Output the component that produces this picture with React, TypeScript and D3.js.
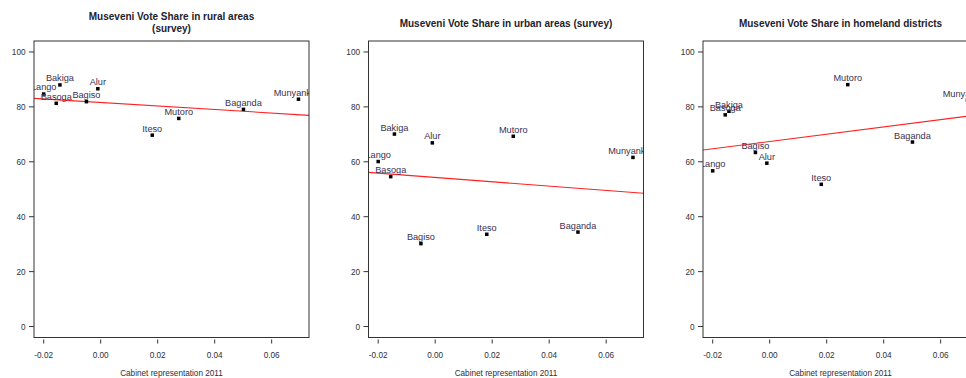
import * as d3 from 'd3';

// ethnic groups and their cabinet representation in 2011
const groups = ['Lango', 'Bakiga', 'Basoga', 'Bagiso', 'Alur', 'Iteso', 'Mutoro', 'Baganda', 'Munyankole'];
const cabinet = [-0.02, -0.0143, -0.0156, -0.005, -0.001, 0.0181, 0.0274, 0.0501, 0.0694];

// Museveni vote share (%)
const rural = [84.7, 88.0, 81.3, 81.9, 86.6, 69.7, 75.8, 79.1, 82.8];
const urban = [60.1, 70.1, 54.6, 30.2, 66.9, 33.6, 69.3, 34.4, 61.6];
const homeland = [56.7, 78.4, 77.1, 63.4, 59.5, 51.8, 88.1, 67.2, 82.4];

// fitted lines: [intercept, slope]
const ruralFit = [81.6, -64];
const urbanFit = [54.3, -79];
const homelandFit = [67.4, 133];

const panels = [
  { key: 'rural', title: ['Museveni Vote Share in rural areas', '(survey)'], values: rural, fit: ruralFit },
  { key: 'urban', title: ['Museveni Vote Share in urban areas (survey)'], values: urban, fit: urbanFit },
  { key: 'homeland', title: ['Museveni Vote Share in homeland districts'], values: homeland, fit: homelandFit },
];

const W = 966;
const H = 378;
const PLOT_LEFT = [34, 368.5, 703];
const PLOT_W = 275;
const TOP = 41;
const BOTTOM = 337.5;
const FONT = '"Liberation Sans", Arial, sans-serif';
const INK = '#2e2e3a';

const fmtX = (v: number) => d3.format('.2f')(v).replace('\u2212', '-');

function Panel({ p, left }: { p: typeof panels[number]; left: number }) {
  const right = left + PLOT_W;
  const x = d3.scaleLinear().domain([-0.0234, 0.0731]).range([left, right]);
  const y = d3.scaleLinear().domain([-4, 104]).range([BOTTOM, TOP]);
  const cx = (left + right) / 2;
  const clipId = `clip-${p.key}`;
  const [a, b] = p.fit;
  const [x0, x1] = x.domain();

  return (
    <g>
      <defs>
        <clipPath id={clipId}>
          <rect x={left} y={TOP} width={PLOT_W} height={BOTTOM - TOP} />
        </clipPath>
      </defs>

      {p.title.map((t, i) => (
        <text key={i} x={cx} y={p.title.length > 1 ? 19.5 + i * 12.5 : 27}
          textAnchor="middle" fontFamily={FONT} fontSize={10} fontWeight="bold" fill="#22222e">
          {t}
        </text>
      ))}

      <g clipPath={`url(#${clipId})`}>
        <line x1={x(x0)} x2={x(x1)} y1={y(a + b * x0)} y2={y(a + b * x1)} stroke="#ff2020" strokeWidth={1.1} />
        {groups.map((g, i) => (
          <g key={g}>
            <rect x={x(cabinet[i]) - 1.75} y={y(p.values[i]) - 1.75} width={3.5} height={3.5} fill="#000" />
            <text x={x(cabinet[i])} y={y(p.values[i]) - 3.5} textAnchor="middle"
              fontFamily={FONT} fontSize={9.2} fill="#3a3050">
              {g}
            </text>
          </g>
        ))}
      </g>

      <rect x={left} y={TOP} width={PLOT_W} height={BOTTOM - TOP} fill="none" stroke="#333" strokeWidth={1} />

      {y.ticks(6).map(t => (
        <g key={`y${t}`}>
          <line x1={left - 5} x2={left} y1={y(t)} y2={y(t)} stroke="#333" />
          <text x={left - 8.5} y={y(t) + 3} textAnchor="end" fontFamily={FONT} fontSize={8.2} fill={INK}>{t}</text>
        </g>
      ))}

      {x.ticks(5).map(t => (
        <g key={`x${t}`}>
          <line x1={x(t)} x2={x(t)} y1={BOTTOM + 2} y2={BOTTOM + 6} stroke="#333" />
          <text x={x(t)} y={BOTTOM + 20.5} textAnchor="middle" fontFamily={FONT} fontSize={8.2} fill={INK}>{fmtX(t)}</text>
        </g>
      ))}

      <text x={cx} y={H - 2.5} textAnchor="middle" fontFamily={FONT} fontSize={8.2} fill={INK}>
        Cabinet representation 2011
      </text>
    </g>
  );
}

export default function App() {
  return (
    <div style={{ position: 'fixed', left: 0, top: 0, width: W, height: H, background: '#fff' }}>
      <svg width={W} height={H} viewBox={`0 0 ${W} ${H}`} style={{ display: 'block' }}>
        <rect width={W} height={H} fill="#fff" />
        {panels.map((p, i) => (
          <Panel key={p.key} p={p} left={PLOT_LEFT[i]} />
        ))}
      </svg>
    </div>
  );
}
